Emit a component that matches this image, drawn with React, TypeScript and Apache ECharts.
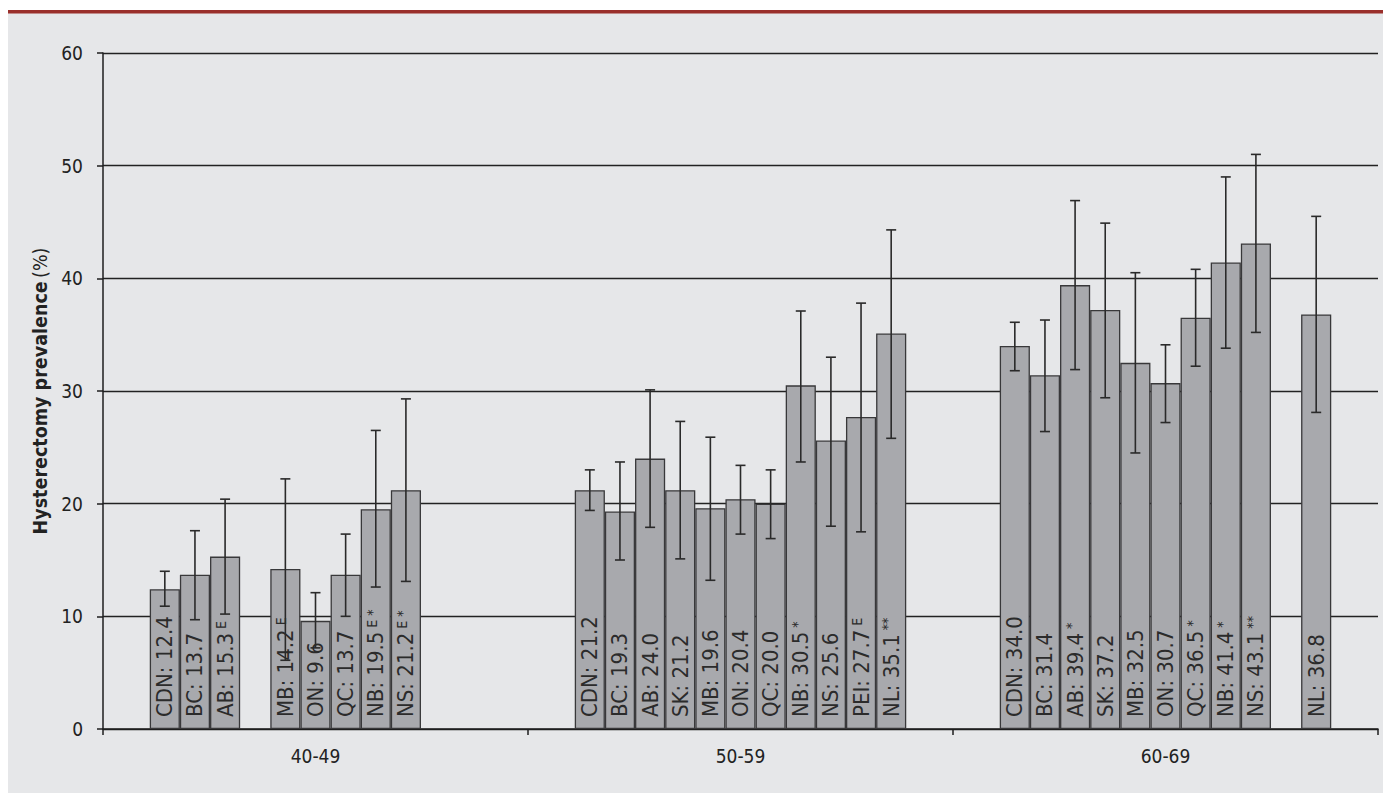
import React, { useEffect, useRef } from 'react';
import * as echarts from 'echarts';

const groups = ['40-49', '50-59', '60-69'];
const provinces = ['CDN', 'BC', 'AB', 'SK', 'MB', 'ON', 'QC', 'NB', 'NS', 'PEI', 'NL'];

// prevalence per province, for each age group
const prevalence: (number | null)[][] = [
  [12.4, 21.2, 34.0],
  [13.7, 19.3, 31.4],
  [15.3, 24.0, 39.4],
  [null, 21.2, 37.2],
  [14.2, 19.6, 32.5],
  [9.6, 20.4, 30.7],
  [13.7, 20.0, 36.5],
  [19.5, 30.5, 41.4],
  [21.2, 25.6, 43.1],
  [null, 27.7, null],
  [null, 35.1, 36.8],
];
const lowerCI: (number | null)[][] = [
  [10.9, 19.4, 31.8],
  [9.7, 15.0, 26.4],
  [10.2, 17.9, 31.9],
  [null, 15.1, 29.4],
  [6.1, 13.2, 24.5],
  [7.2, 17.3, 27.2],
  [10.0, 16.9, 32.2],
  [12.6, 23.7, 33.8],
  [13.1, 18.0, 35.2],
  [null, 17.5, null],
  [null, 25.8, 28.1],
];
const upperCI: (number | null)[][] = [
  [14.0, 23.0, 36.1],
  [17.6, 23.7, 36.3],
  [20.4, 30.1, 46.9],
  [null, 27.3, 44.9],
  [22.2, 25.9, 40.5],
  [12.1, 23.4, 34.1],
  [17.3, 23.0, 40.8],
  [26.5, 37.1, 49.0],
  [29.3, 33.0, 51.0],
  [null, 37.8, null],
  [null, 44.3, 45.5],
];
const marks: string[][] = [
  ['', '', ''],
  ['', '', ''],
  ['E', '', '*'],
  ['', '', ''],
  ['E', '', ''],
  ['', '', ''],
  ['', '', '*'],
  ['E *', '*', '*'],
  ['E *', '', '**'],
  ['', 'E', ''],
  ['', '**', ''],
];
const yTicks = [0, 10, 20, 30, 40, 50, 60];

const FONT = "'Liberation Sans Narrow', 'DejaVu Sans Condensed', 'Liberation Sans', sans-serif";
const GAP = 0.22;

export default function App() {
  const ref = useRef<HTMLDivElement>(null);
  useEffect(() => {
    if (!ref.current) return;
    const chart = echarts.init(ref.current, undefined, { renderer: 'svg' });
    const nProv = provinces.length;

    const barSeries = provinces.map((p, i) => ({
      type: 'bar',
      name: p,
      barGap: '0%',
      barCategoryGap: `${GAP * 100}%`,
      itemStyle: { color: '#a8a9ad', borderColor: '#38383a', borderWidth: 1.3 },
      data: prevalence[i].map((v) => (v == null ? null : v)),
      label: {
        show: true,
        position: 'insideBottom',
        rotate: 90,
        align: 'left',
        verticalAlign: 'middle',
        distance: 12,
        formatter: (params: any) => {
          const v = params.value as number;
          const m = marks[i][params.dataIndex];
          return `{m|${p}: ${v.toFixed(1)}}` + (m ? `{s| ${m}}` : '');
        },
        rich: {
          m: { fontFamily: FONT, fontSize: 22, color: '#2b2b2b' },
          s: { fontFamily: FONT, fontSize: 14, color: '#2b2b2b', verticalAlign: 'top', lineHeight: 22 },
        },
      },
      z: 2,
    }));

    const errData: number[][] = [];
    provinces.forEach((_, i) => {
      groups.forEach((__, g) => {
        const lo = lowerCI[i][g];
        const hi = upperCI[i][g];
        if (lo != null && hi != null) errData.push([g, lo, hi, i]);
      });
    });

    const errSeries = {
      type: 'custom',
      data: errData,
      encode: { x: 0, y: [1, 2] },
      z: 5,
      renderItem: (params: any, api: any) => {
        const g = api.value(0);
        const lo = api.value(1);
        const hi = api.value(2);
        const i = api.value(3);
        const band = api.size([1, 0])[0];
        const center = api.coord([g, 0])[0];
        const inner = band * (1 - GAP);
        const bw = inner / nProv;
        const x = center - inner / 2 + (i + 0.5) * bw;
        const yLo = api.coord([g, lo])[1];
        const yHi = api.coord([g, hi])[1];
        const cap = 5;
        const style = { stroke: '#2a2a2a', lineWidth: 1.6 };
        return {
          type: 'group',
          children: [
            { type: 'line', shape: { x1: x, y1: yLo, x2: x, y2: yHi }, style },
            { type: 'line', shape: { x1: x - cap, y1: yHi, x2: x + cap, y2: yHi }, style },
            { type: 'line', shape: { x1: x - cap, y1: yLo, x2: x + cap, y2: yLo }, style },
          ],
        };
      },
    };

    chart.setOption({
      animation: false,
      backgroundColor: '#e6e7e9',
      textStyle: { fontFamily: FONT },
      graphic: [
        { type: 'rect', left: 0, top: 0, shape: { width: 1400, height: 2 }, style: { fill: '#ffffff' } },
        { type: 'rect', left: 0, top: 2, shape: { width: 1400, height: 3.5 }, style: { fill: '#9a2f2b' } },
      ],
      grid: { left: 95, right: 13, top: 45, bottom: 64, containLabel: false },
      xAxis: {
        type: 'category',
        data: groups,
        axisLine: { show: true, lineStyle: { color: '#1e1e1e', width: 1.5 } },
        axisTick: { show: true, length: 6, lineStyle: { color: '#1e1e1e', width: 1.5 } },
        axisLabel: { fontFamily: FONT, fontSize: 19, color: '#222', margin: 17 },
      },
      yAxis: {
        type: 'value',
        min: yTicks[0],
        max: yTicks[yTicks.length - 1],
        interval: 10,
        name: '{b|Hysterectomy prevalence} {r|(%)}',
        nameLocation: 'middle',
        nameGap: 53,
        nameTextStyle: {
          rich: {
            b: { fontFamily: FONT, fontSize: 19.5, fontWeight: 'bold', color: '#222' },
            r: { fontFamily: FONT, fontSize: 19.5, color: '#222' },
          },
        },
        axisLine: { show: true, lineStyle: { color: '#1e1e1e', width: 1.5 } },
        axisTick: { show: true, length: 6, lineStyle: { color: '#1e1e1e', width: 1.5 } },
        axisLabel: { fontFamily: FONT, fontSize: 19, color: '#222', margin: 20 },
        splitLine: { show: true, lineStyle: { color: '#222', width: 1.4 } },
      },
      series: [...barSeries, errSeries],
    });
    return () => chart.dispose();
  }, []);

  return <div ref={ref} style={{ width: 1383, height: 785 }} />;
}
